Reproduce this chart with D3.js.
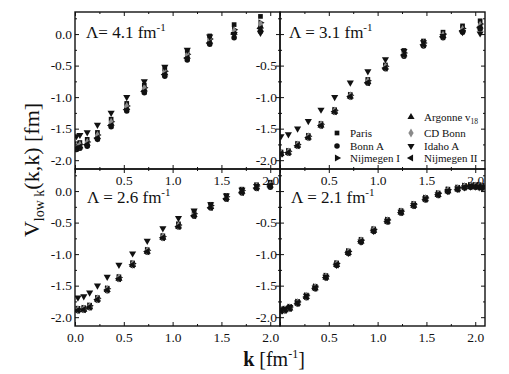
<!DOCTYPE html>
<html>
<head>
<meta charset="utf-8">
<script src="https://cdn.jsdelivr.net/npm/d3@7"></script>
<style>
  body { margin: 0; background: #fff; }
  svg { display: block; font-family: "Liberation Serif", "Times New Roman", serif; }
</style>
</head>
<body>
<div id="chart"></div>
<script>
// series names, in legend order
const seriesNames = ["Paris", "Bonn A", "Nijmegen I", "Argonne v18", "CD Bonn", "Idaho A", "Nijmegen II"];
const lambdas = ["4.1", "3.1", "2.6", "2.1"];

// Lambda = 4.1 fm^-1
const k41 = [0.015, 0.05, 0.125, 0.23, 0.37, 0.53, 0.71, 0.92, 1.15, 1.38, 1.63, 1.90];
const paris41 = [-1.74, -1.72, -1.67, -1.56, -1.35, -1.10, -0.81, -0.55, -0.26, -0.03, 0.15, 0.28];
const bonnA41 = [-1.83, -1.81, -1.78, -1.67, -1.47, -1.22, -0.93, -0.67, -0.41, -0.16, -0.06, 0.04];
const nijmI41 = [-1.77, -1.75, -1.71, -1.60, -1.39, -1.14, -0.85, -0.59, -0.32, -0.08, 0.07, 0.18];
const argonne41 = [-1.80, -1.78, -1.74, -1.63, -1.42, -1.17, -0.88, -0.62, -0.36, -0.12, 0.02, 0.12];
const cdBonn41 = [-1.78, -1.76, -1.72, -1.61, -1.40, -1.15, -0.86, -0.60, -0.33, -0.09, 0.05, 0.16];
const idaho41 = [-1.62, -1.60, -1.56, -1.44, -1.25, -1.00, -0.75, -0.52, -0.25, -0.04, 0.00, 0.02];
const nijmII41 = [-1.81, -1.79, -1.75, -1.65, -1.45, -1.20, -0.91, -0.64, -0.38, -0.14, 0.00, 0.09];

// Lambda = 3.1 fm^-1
const k31 = [0.01, 0.086, 0.18, 0.29, 0.42, 0.56, 0.72, 0.90, 1.08, 1.27, 1.47, 1.67, 1.87, 2.05];
const paris31 = [-1.87, -1.85, -1.74, -1.61, -1.42, -1.20, -0.96, -0.72, -0.49, -0.26, -0.11, 0.03, 0.13, 0.21];
const bonnA31 = [-1.91, -1.89, -1.78, -1.65, -1.46, -1.24, -1.00, -0.78, -0.55, -0.35, -0.19, -0.06, 0.03, 0.08];
const nijmI31 = [-1.88, -1.86, -1.75, -1.62, -1.43, -1.21, -0.97, -0.74, -0.51, -0.30, -0.14, 0.00, 0.09, 0.16];
const argonne31 = [-1.90, -1.88, -1.77, -1.64, -1.45, -1.23, -0.99, -0.76, -0.53, -0.32, -0.16, -0.03, 0.06, 0.12];
const cdBonn31 = [-1.89, -1.87, -1.76, -1.63, -1.44, -1.22, -0.98, -0.75, -0.52, -0.31, -0.15, -0.02, 0.07, 0.14];
const idaho31 = [-1.62, -1.59, -1.50, -1.38, -1.20, -1.00, -0.77, -0.59, -0.40, -0.27, -0.13, -0.03, 0.03, 0.01];
const nijmII31 = [-1.90, -1.88, -1.77, -1.64, -1.45, -1.23, -0.99, -0.77, -0.54, -0.33, -0.17, -0.04, 0.05, 0.11];

// Lambda = 2.6 fm^-1
const k26 = [0.03, 0.09, 0.15, 0.23, 0.33, 0.45, 0.59, 0.74, 0.90, 1.06, 1.22, 1.39, 1.55, 1.71, 1.86, 2.00];
const paris26 = [-1.86, -1.85, -1.81, -1.69, -1.54, -1.36, -1.14, -0.93, -0.71, -0.52, -0.33, -0.21, -0.07, 0.03, 0.10, 0.14];
const bonnA26 = [-1.90, -1.89, -1.85, -1.73, -1.58, -1.40, -1.18, -0.97, -0.75, -0.57, -0.40, -0.27, -0.13, -0.03, 0.04, 0.06];
const nijmI26 = [-1.87, -1.86, -1.82, -1.70, -1.55, -1.37, -1.15, -0.94, -0.72, -0.54, -0.36, -0.23, -0.09, 0.01, 0.08, 0.11];
const argonne26 = [-1.89, -1.88, -1.84, -1.72, -1.57, -1.39, -1.17, -0.96, -0.74, -0.56, -0.38, -0.25, -0.11, -0.01, 0.06, 0.09];
const cdBonn26 = [-1.88, -1.87, -1.83, -1.71, -1.56, -1.38, -1.16, -0.95, -0.73, -0.55, -0.37, -0.24, -0.10, 0.00, 0.07, 0.10];
const idaho26 = [-1.69, -1.67, -1.61, -1.50, -1.36, -1.17, -0.99, -0.79, -0.59, -0.43, -0.31, -0.21, -0.07, 0.02, 0.08, 0.09];
const nijmII26 = [-1.89, -1.88, -1.84, -1.72, -1.57, -1.39, -1.17, -0.96, -0.74, -0.56, -0.39, -0.26, -0.12, -0.02, 0.05, 0.08];

// Lambda = 2.1 fm^-1
const k21 = [0.01, 0.05, 0.10, 0.18, 0.27, 0.36, 0.47, 0.58, 0.70, 0.83, 0.96, 1.10, 1.24, 1.37, 1.49, 1.62, 1.72, 1.82, 1.89, 1.95, 2.00, 2.04, 2.07];
const paris21 = [-1.87, -1.86, -1.83, -1.75, -1.65, -1.51, -1.34, -1.14, -0.95, -0.77, -0.60, -0.45, -0.31, -0.20, -0.10, -0.03, 0.03, 0.06, 0.09, 0.10, 0.10, 0.10, 0.09];
const bonnA21 = [-1.91, -1.90, -1.87, -1.79, -1.69, -1.55, -1.38, -1.18, -0.99, -0.81, -0.64, -0.49, -0.35, -0.24, -0.14, -0.07, -0.01, 0.02, 0.05, 0.06, 0.06, 0.06, 0.05];
const nijmI21 = [-1.88, -1.87, -1.84, -1.76, -1.66, -1.52, -1.35, -1.15, -0.96, -0.78, -0.61, -0.46, -0.32, -0.21, -0.11, -0.04, 0.02, 0.05, 0.08, 0.09, 0.09, 0.09, 0.08];
const argonne21 = [-1.90, -1.89, -1.86, -1.78, -1.68, -1.54, -1.37, -1.17, -0.98, -0.80, -0.63, -0.48, -0.34, -0.23, -0.13, -0.06, 0.00, 0.03, 0.06, 0.07, 0.07, 0.07, 0.06];
const cdBonn21 = [-1.89, -1.88, -1.85, -1.77, -1.67, -1.53, -1.36, -1.16, -0.97, -0.79, -0.62, -0.47, -0.33, -0.22, -0.12, -0.05, 0.01, 0.04, 0.07, 0.08, 0.08, 0.08, 0.07];
const idaho21 = [-1.88, -1.87, -1.84, -1.77, -1.66, -1.53, -1.36, -1.17, -0.98, -0.80, -0.63, -0.47, -0.33, -0.22, -0.12, -0.05, 0.00, 0.04, 0.06, 0.07, 0.07, 0.06, 0.05];
const nijmII21 = [-1.90, -1.89, -1.86, -1.78, -1.68, -1.54, -1.37, -1.17, -0.98, -0.80, -0.63, -0.48, -0.34, -0.23, -0.13, -0.06, 0.00, 0.03, 0.06, 0.07, 0.07, 0.07, 0.06];

// tick labels shown on each panel
const xLabelsFull = [0.0, 0.5, 1.0, 1.5, 2.0];
const xLabelsNoZero = [0.5, 1.0, 1.5, 2.0];
const yLabelsFull = [0.0, -0.5, -1.0, -1.5, -2.0];
const yLabelsNoZero = [-0.5, -1.0, -1.5, -2.0];

const width = 509, height = 374;
const pw = 205, ph = 157;

const panels = [
    {lambda: lambdas[0], k: k41, vals: [paris41, bonnA41, nijmI41, argonne41, cdBonn41, idaho41, nijmII41],
     x0: 75, y0: 12, xl: xLabelsNoZero, yl: yLabelsFull, labelPos: [11, 26], eq: "Λ= "},
    {lambda: lambdas[1], k: k31, vals: [paris31, bonnA31, nijmI31, argonne31, cdBonn31, idaho31, nijmII31],
     x0: 280, y0: 12, xl: xLabelsNoZero, yl: yLabelsNoZero, labelPos: [9, 26], eq: "Λ = "},
    {lambda: lambdas[2], k: k26, vals: [paris26, bonnA26, nijmI26, argonne26, cdBonn26, idaho26, nijmII26],
     x0: 75, y0: 169, xl: xLabelsFull, yl: yLabelsFull, labelPos: [12, 34], eq: "Λ = "},
    {lambda: lambdas[3], k: k21, vals: [paris21, bonnA21, nijmI21, argonne21, cdBonn21, idaho21, nijmII21],
     x0: 280, y0: 169, xl: xLabelsNoZero, yl: yLabelsNoZero, labelPos: [11, 34], eq: "Λ = "}
];

// marker for each series: symbol, rotation, fill
const markers = [
    {sym: d3.symbolSquare, rot: 0, fill: "#111", size: 22},
    {sym: d3.symbolCircle, rot: 0, fill: "#111", size: 24},
    {sym: d3.symbolTriangle, rot: 90, fill: "#111", size: 22},
    {sym: d3.symbolTriangle, rot: 0, fill: "#111", size: 22},
    {sym: d3.symbolDiamond, rot: 0, fill: "#8a8a8a", size: 24},
    {sym: d3.symbolTriangle, rot: 180, fill: "#111", size: 22},
    {sym: d3.symbolTriangle, rot: -90, fill: "#111", size: 22}
];

const svg = d3.select("#chart").append("svg")
    .attr("width", width)
    .attr("height", height);

svg.append("rect").attr("width", width).attr("height", height).attr("fill", "#fff");

const x = d3.scaleLinear().domain([0, 2.1]).range([0, pw]);
const y = d3.scaleLinear().domain([-2.14, 0.35]).range([ph, 0]);

const fmt = function (v) { return v.toFixed(1); };
const majorX = d3.range(0, 2.11, 0.5), minorX = d3.range(0.25, 2.11, 0.5);
const majorY = d3.range(-2, 0.36, 0.5), minorY = d3.range(-1.75, 0.36, 0.5);

function tickSet(g, axisFn, vals, size) {
    g.call(axisFn.tickValues(vals).tickSize(size).tickFormat(""))
        .call(function (s) { s.select(".domain").remove(); })
        .selectAll("line").attr("stroke", "#111").attr("stroke-width", 1);
}

panels.forEach(function (p, pi) {
    const g = svg.append("g").attr("transform", "translate(" + p.x0 + "," + p.y0 + ")");

    g.append("clipPath").attr("id", "clip" + pi)
        .append("rect").attr("width", pw).attr("height", ph);

    const dots = g.append("g").attr("clip-path", "url(#clip" + pi + ")");
    p.vals.forEach(function (vals, si) {
        const m = markers[si];
        dots.selectAll(".s" + si)
            .data(vals.map(function (v, i) { return [p.k[i], v]; }))
            .enter().append("path")
            .attr("class", "s" + si)
            .attr("d", d3.symbol().type(m.sym).size(m.size))
            .attr("fill", m.fill)
            .attr("transform", function (d) {
                return "translate(" + x(d[0]) + "," + y(d[1]) + ") rotate(" + m.rot + ")";
            });
    });

    // inward ticks on all four sides
    tickSet(g.append("g").attr("transform", "translate(0," + ph + ")"), d3.axisTop(x), majorX, 4);
    tickSet(g.append("g").attr("transform", "translate(0," + ph + ")"), d3.axisTop(x), minorX, 2);
    tickSet(g.append("g"), d3.axisBottom(x), majorX, 4);
    tickSet(g.append("g"), d3.axisBottom(x), minorX, 2);
    tickSet(g.append("g"), d3.axisRight(y), majorY, 4);
    tickSet(g.append("g"), d3.axisRight(y), minorY, 2);
    tickSet(g.append("g").attr("transform", "translate(" + pw + ",0)"), d3.axisLeft(y), majorY, 4);
    tickSet(g.append("g").attr("transform", "translate(" + pw + ",0)"), d3.axisLeft(y), minorY, 2);

    g.append("rect")
        .attr("width", pw).attr("height", ph)
        .attr("fill", "none").attr("stroke", "#111").attr("stroke-width", 1.4);

    // Lambda label
    const lt = g.append("text")
        .attr("x", p.labelPos[0]).attr("y", p.labelPos[1])
        .attr("font-size", 17).attr("fill", "#111");
    lt.append("tspan").text(p.eq + p.lambda + " fm");
    lt.append("tspan").attr("dy", -7).attr("font-size", 11).text("-1");
});

// tick labels drawn last so they sit over the neighbouring panel
panels.forEach(function (p) {
    const g = svg.append("g").attr("transform", "translate(" + p.x0 + "," + p.y0 + ")");
    const xa = g.append("g").attr("transform", "translate(0," + ph + ")")
        .call(d3.axisBottom(x).tickValues(p.xl).tickSize(0).tickPadding(6).tickFormat(fmt));
    const ya = g.append("g")
        .call(d3.axisLeft(y).tickValues(p.yl).tickSize(0).tickPadding(3).tickFormat(fmt));
    [xa, ya].forEach(function (a) {
        a.attr("font-family", null);
        a.select(".domain").remove();
        a.selectAll("text")
            .attr("font-family", "Liberation Serif, serif")
            .attr("font-size", 13.5).attr("fill", "#111");
    });
});

// legend in the Lambda = 3.1 panel
const lg = svg.append("g").attr("transform", "translate(280,12)");
const legendRows = [
    {si: 0, mx: 57, tx: 70, y: 121},
    {si: 1, mx: 57, tx: 70, y: 134},
    {si: 2, mx: 57, tx: 70, y: 146},
    {si: 3, mx: 131, tx: 144, y: 105},
    {si: 4, mx: 131, tx: 144, y: 121},
    {si: 5, mx: 131, tx: 144, y: 134},
    {si: 6, mx: 131, tx: 144, y: 146}
];
legendRows.forEach(function (r) {
    const m = markers[r.si];
    lg.append("path")
        .attr("d", d3.symbol().type(m.sym).size(m.size))
        .attr("fill", m.fill)
        .attr("transform", "translate(" + r.mx + "," + r.y + ") rotate(" + m.rot + ")");
    const t = lg.append("text")
        .attr("x", r.tx).attr("y", r.y + 4)
        .attr("font-size", 11).attr("fill", "#111");
    if (r.si === 3) {
        t.append("tspan").text("Argonne v");
        t.append("tspan").attr("dy", 3).attr("font-size", 7.5).text("18");
    } else {
        t.text(seriesNames[r.si]);
    }
});

// axis titles
const yt = svg.append("text")
    .attr("transform", "translate(39,170) rotate(-90)")
    .attr("text-anchor", "middle")
    .attr("font-size", 22).attr("fill", "#111");
yt.append("tspan").text("V");
yt.append("tspan").attr("dy", 5).attr("font-size", 14).text("low k");
yt.append("tspan").attr("dy", -5).text("(k,k) [fm]");

const xt = svg.append("text")
    .attr("x", 274).attr("y", 366)
    .attr("text-anchor", "middle")
    .attr("font-size", 20).attr("fill", "#111");
xt.append("tspan").attr("font-weight", "bold").text("k");
xt.append("tspan").text(" [fm");
xt.append("tspan").attr("dy", -8).attr("font-size", 12).text("-1");
xt.append("tspan").attr("dy", 8).text("]");
</script>
</body>
</html>
